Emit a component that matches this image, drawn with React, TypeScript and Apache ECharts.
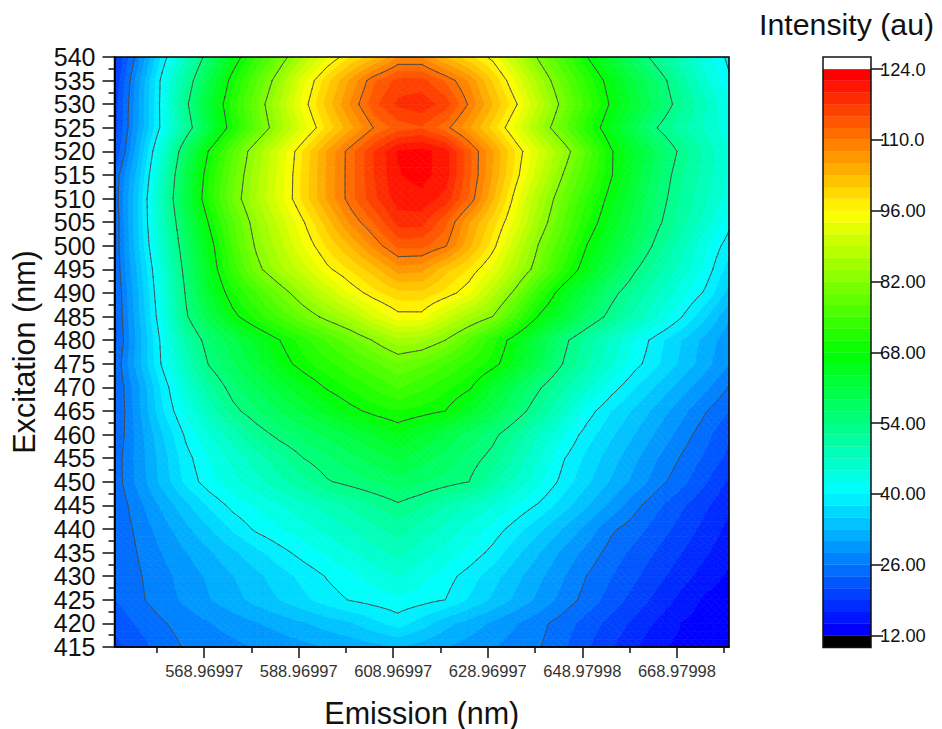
import React, { useEffect, useRef } from "react";
import * as echarts from "echarts";

// Emission columns (nm), left to right
const emissionNm = [550, 555, 560, 565, 570, 575, 580, 585, 590, 595, 600, 605, 610, 615, 620, 625, 630, 635, 640, 645, 650, 655, 660, 665, 670, 675, 680];
// Excitation rows (nm), top to bottom
const excitationNm = [540, 535, 530, 525, 520, 515, 510, 505, 500, 495, 490, 485, 480, 475, 470, 465, 460, 455, 450, 445, 440, 435, 430, 425, 420, 415];
const excitationLabels = ["415", "420", "425", "430", "435", "440", "445", "450", "455", "460", "465", "470", "475", "480", "485", "490", "495", "500", "505", "510", "515", "520", "525", "530", "535", "540"];

const row540 = [18, 27.3, 38, 47.2, 56.3, 65.4, 72.8, 79.7, 86.6, 93.3, 98.3, 102.2, 107.5, 107.5, 102.6, 99, 95.1, 88, 81, 74.6, 68, 62.5, 57, 52, 47.7, 43.5, 39.2];
const row535 = [18.8, 29.7, 40.8, 50.8, 60.4, 69.6, 76.9, 84.5, 92.9, 99.8, 105.8, 112, 115.5, 115.5, 112, 107.2, 100.4, 93, 85.2, 78.3, 72, 66.2, 61.1, 56, 50.6, 45, 40.5];
const row530 = [19.8, 30.3, 41, 52.8, 62.7, 71.6, 79.2, 86.9, 94.7, 101.6, 108, 114, 117.5, 118.5, 116, 109.6, 103, 96.3, 88.1, 80.4, 73.8, 67.5, 62.3, 57.1, 52, 47.3, 42.3];
const row525 = [20.1, 30.4, 40.9, 51.1, 61, 70.3, 77.9, 85.3, 92.5, 99, 104.7, 110.3, 113.4, 114.4, 111, 105.7, 99.7, 92.7, 85.1, 78.1, 71.4, 65.2, 59.6, 53.8, 50, 46.4, 43];
const row520 = [20.9, 32.3, 44.7, 57.5, 68.4, 77, 84.8, 91.6, 98.6, 105.5, 111.4, 117, 121.8, 122.5, 120.5, 113, 105.5, 97.9, 91, 84.3, 76.5, 68.5, 63.2, 58, 53, 48.7, 44.1];
const row515 = [24, 34, 46.7, 59.8, 70.4, 78.6, 85.8, 92.3, 99.1, 105.7, 111.4, 117, 121.5, 122.5, 120.5, 113, 105.2, 97, 89.3, 81.7, 75, 68.4, 62.6, 56.7, 51.9, 48.2, 44];
const row510 = [24.3, 35.3, 47.8, 60.8, 71.2, 79.6, 86.3, 92.6, 99.1, 105.7, 111.4, 116.5, 120.5, 121, 118.5, 112, 103.3, 94.5, 86.2, 79, 72.5, 66.6, 61.3, 55.8, 51.2, 47.4, 43.5];
const row505 = [23.8, 35.2, 47.3, 58.5, 68.4, 76.8, 84, 89.8, 95.8, 101.9, 108.2, 112.6, 118, 118, 113, 105.5, 99.5, 92.5, 84.3, 77.2, 70.5, 64.9, 59.9, 54.7, 50.3, 45.8, 40.8];
const row500 = [24, 34.8, 46, 56.9, 66, 75.4, 82.6, 88.1, 93.7, 98.7, 103.2, 108.5, 113, 113, 110.3, 103.7, 97.1, 89.2, 81.3, 75, 67.8, 62.8, 57.8, 52.7, 47.8, 42.8, 38.6];
const row495 = [23.7, 33.6, 44.2, 55.5, 65.1, 73.3, 80.7, 85.8, 90.3, 95.3, 98.6, 102, 106.5, 106, 101.5, 98, 93, 86.2, 79.4, 72, 65.5, 60.1, 54.5, 50.1, 45.9, 41.6, 36.5];
const row490 = [23.1, 32.8, 43.2, 54.2, 63.2, 70.1, 74.9, 79.9, 84.8, 89.5, 94.2, 97.5, 99.9, 100, 97.6, 94.2, 87.6, 80.6, 72.4, 65.6, 60.5, 55.4, 51.2, 47.2, 43.1, 39.5, 34.5];
const row485 = [22.9, 32.3, 42.3, 53.3, 60.2, 66.8, 71.4, 75.4, 79.6, 83.3, 86.6, 91.5, 95, 95, 90, 85.8, 82, 74.4, 67.3, 62.4, 57.3, 52.7, 48.6, 44.4, 40.1, 35.7, 31];
const row480 = [22.6, 31.5, 40.8, 49.6, 56, 60, 64, 68, 71.6, 75.2, 78.7, 82.4, 86, 85, 82, 76.7, 71.3, 65.9, 60.5, 55, 50.5, 46.4, 42.3, 38.5, 35.3, 32.2, 29];
const row475 = [23.7, 32, 40.3, 47.4, 54.3, 58.3, 62.3, 66.3, 69.5, 71.9, 74.4, 76.9, 79.3, 77.9, 75, 72.1, 69.3, 64.7, 59.2, 53.8, 49.6, 45.3, 41, 37.9, 34.7, 31.6, 28.4];
const row470 = [23.3, 30.1, 38, 44.7, 50.7, 55.5, 58.8, 62, 65.4, 68.4, 70.7, 73, 75.2, 73.2, 71, 68.6, 63.4, 58.5, 54.3, 50, 45.6, 41.3, 37.8, 34.8, 31.8, 28.9, 25.8];
const row465 = [23.1, 29.8, 37.2, 42.7, 47.8, 52.9, 56.1, 58.8, 61.6, 64.3, 67, 69, 70.3, 69.3, 68, 63.9, 60, 55.9, 51.5, 46.5, 41.3, 37.7, 34.9, 32, 29.1, 26.2, 23.7];
const row460 = [23.7, 29.3, 35, 40.4, 44.4, 48.3, 52.2, 55.1, 57.2, 59.3, 61.3, 63.5, 65.7, 63.2, 60.5, 57.8, 55, 51.2, 46.8, 42.5, 38.7, 35.8, 33, 30.1, 27.3, 24.5, 21.5];
const row455 = [24.5, 29.2, 34, 39, 42.3, 45.3, 48.2, 51, 54, 55.9, 57.8, 59.7, 61.6, 59.7, 57.6, 55.5, 52.9, 48.7, 44.5, 40.2, 37, 34.1, 31.2, 28.3, 25.7, 23.2, 20.7];
const row450 = [24.5, 29, 33.7, 38.2, 41.4, 43.8, 46.2, 48.6, 51, 53.7, 55, 56.3, 57.6, 56.5, 55.3, 54, 50.3, 46.5, 42.7, 39, 35.8, 32.8, 29.9, 26.9, 24.4, 21.6, 18.5];
const row445 = [24, 27.5, 31.1, 34.6, 38, 40.8, 42.6, 44.4, 46.2, 48, 49.9, 51.7, 53.5, 51.8, 49.3, 47, 44.7, 42, 39.5, 36.4, 33.2, 30, 26.8, 24.1, 21.7, 19.4, 17];
const row440 = [24, 26.6, 29.5, 32.3, 35.1, 38, 40.5, 42.1, 43.8, 45.4, 47.1, 48.8, 50.4, 48.4, 46.1, 43.8, 41.5, 38.7, 35.8, 32.8, 29.8, 26.5, 24.7, 22.5, 20.4, 18.2, 16];
const row435 = [24, 26.1, 28.3, 30.5, 32.6, 34.8, 37, 39.1, 41, 42.7, 44.4, 46.1, 47.7, 45.7, 43.7, 41.7, 39.2, 35.9, 33, 30, 27.5, 25, 23, 21, 19, 17, 15];
const row430 = [23.8, 25.7, 27.5, 29.3, 31.1, 32.9, 34.7, 36.6, 38.4, 40.2, 41.7, 43.3, 44.8, 43, 41.1, 38.9, 36.3, 33.7, 31.1, 28.5, 25.9, 23.8, 21.8, 19.7, 17.6, 15.6, 13.9];
const row425 = [23.5, 25.5, 27.2, 28.8, 30.5, 32.1, 33.8, 35.4, 37.1, 38.9, 40.2, 41, 41.7, 41, 40, 37.4, 34.9, 32.4, 29.9, 27.4, 25, 22.7, 20.4, 18.2, 15.9, 13.8, 13];
const row420 = [22, 24, 25.7, 27, 28.2, 29.3, 30.5, 31.6, 32.8, 34, 35.1, 37, 38.7, 36.5, 33.8, 32, 30.2, 28.4, 26.7, 24.8, 22.6, 20.5, 18.4, 16.2, 14.2, 13.2, 12.5];
const row415 = [20.5, 22.5, 24.8, 26.2, 27, 27.7, 28.5, 29.2, 30, 30.7, 31.5, 32.2, 33, 31.9, 30.7, 29.6, 28.4, 27.3, 26.1, 24, 21.6, 19.3, 17, 14.7, 13.7, 13, 12.3];

const intensityRows = [row540, row535, row530, row525, row520, row515, row510, row505, row500, row495, row490, row485, row480, row475, row470, row465, row460, row455, row450, row445, row440, row435, row430, row425, row420, row415];

// Tick labels
const emissionMajorTicks = [568.96997, 588.96997, 608.96997, 628.96997, 648.97998, 668.97998];
const emissionMajorLabels = ["568.96997", "588.96997", "608.96997", "628.96997", "648.97998", "668.97998"];
const emissionMinorTicks = [558.97, 578.97, 598.97, 618.97, 638.97, 658.98, 678.98];
const contourLevels = [26, 40, 54, 68, 82, 96, 110];
const colorbarTicks = [12, 26, 40, 54, 68, 82, 96, 110, 124];
const colorbarLabels = ["12.00", "26.00", "40.00", "54.00", "68.00", "82.00", "96.00", "110.0", "124.0"];

// Colour scale
const rampStops = [[0, 0, 255], [0, 255, 255], [0, 255, 0], [255, 255, 0], [255, 0, 0]];
const rangeLow = 12;
const rangeHigh = 124;
const bandCount = 48;
const bandStep = (rangeHigh - rangeLow) / bandCount;
const cellDivisions = 3;

function bandColor(i: number) {
  const t = (i / (bandCount - 1)) * (rampStops.length - 1);
  const k = Math.min(Math.floor(t), rampStops.length - 2);
  const f = t - k;
  const c = rampStops[k].map((v, n) => Math.round(v + (rampStops[k + 1][n] - v) * f));
  return `rgb(${c[0]},${c[1]},${c[2]})`;
}

type P = [number, number, number];

function clipAbove(poly: P[], level: number, keepAbove: boolean): P[] {
  const out: P[] = [];
  for (let i = 0; i < poly.length; i++) {
    const a = poly[i];
    const b = poly[(i + 1) % poly.length];
    const aIn = keepAbove ? a[2] >= level : a[2] <= level;
    const bIn = keepAbove ? b[2] >= level : b[2] <= level;
    if (aIn) out.push(a);
    if (aIn !== bIn) {
      const f = (level - a[2]) / (b[2] - a[2]);
      out.push([a[0] + (b[0] - a[0]) * f, a[1] + (b[1] - a[1]) * f, level]);
    }
  }
  return out;
}

// The drawing surface of one grid cell, cut into small triangles
function cellTriangles(api: any, i: number, j: number): P[][] {
  const tl = api.coord([emissionNm[i], excitationNm[j]]);
  const br = api.coord([emissionNm[i + 1], excitationNm[j + 1]]);
  const z00 = intensityRows[j][i];
  const z10 = intensityRows[j][i + 1];
  const z01 = intensityRows[j + 1][i];
  const z11 = intensityRows[j + 1][i + 1];
  const at = (u: number, v: number): P => [
    tl[0] + (br[0] - tl[0]) * u,
    tl[1] + (br[1] - tl[1]) * v,
    z00 * (1 - u) * (1 - v) + z10 * u * (1 - v) + z01 * (1 - u) * v + z11 * u * v,
  ];
  const tris: P[][] = [];
  const n = cellDivisions;
  for (let a = 0; a < n; a++) {
    for (let b = 0; b < n; b++) {
      const p = at(a / n, b / n);
      const q = at((a + 1) / n, b / n);
      const r = at((a + 1) / n, (b + 1) / n);
      const s = at(a / n, (b + 1) / n);
      tris.push([p, q, r], [p, r, s]);
    }
  }
  return tris;
}

function renderBands(params: any, api: any) {
  const i = api.value(2);
  const j = api.value(3);
  const children: any[] = [];
  for (const tri of cellTriangles(api, i, j)) {
    const zs = tri.map((p) => p[2]);
    const lo = Math.max(0, Math.floor((Math.min(...zs) - rangeLow) / bandStep));
    const hi = Math.min(bandCount - 1, Math.floor((Math.max(...zs) - rangeLow) / bandStep));
    for (let b = lo; b <= hi; b++) {
      let poly = clipAbove(tri, rangeLow + b * bandStep, true);
      if (poly.length) poly = clipAbove(poly, rangeLow + (b + 1) * bandStep, false);
      if (poly.length < 3) continue;
      const col = bandColor(b);
      children.push({
        type: "polygon",
        silent: true,
        shape: { points: poly.map((p) => [p[0], p[1]]) },
        style: { fill: col, stroke: col, lineWidth: 0.7 },
      });
    }
  }
  return { type: "group", children };
}

function renderContours(params: any, api: any) {
  const i = api.value(2);
  const j = api.value(3);
  const children: any[] = [];
  for (const tri of cellTriangles(api, i, j)) {
    for (const level of contourLevels) {
      const pts: number[][] = [];
      for (let e = 0; e < 3; e++) {
        const a = tri[e];
        const b = tri[(e + 1) % 3];
        if (a[2] < level !== b[2] < level) {
          const f = (level - a[2]) / (b[2] - a[2]);
          pts.push([a[0] + (b[0] - a[0]) * f, a[1] + (b[1] - a[1]) * f]);
        }
      }
      if (pts.length === 2) {
        children.push({
          type: "line",
          silent: true,
          shape: { x1: pts[0][0], y1: pts[0][1], x2: pts[1][0], y2: pts[1][1] },
          style: { stroke: "#474747", lineWidth: 0.9, lineCap: "round" },
        });
      }
    }
  }
  return { type: "group", children };
}

function renderColorbar(params: any, api: any) {
  const lowEnd = api.value(0);
  const highEnd = api.value(1);
  const idx = api.value(2);
  const tl = api.coord([0, highEnd]);
  const br = api.coord([1, lowEnd]);
  const fill = idx < 0 ? "#000000" : idx >= bandCount ? "#ffffff" : bandColor(idx);
  return {
    type: "rect",
    silent: true,
    shape: { x: tl[0], y: tl[1], width: br[0] - tl[0], height: br[1] - tl[1] },
    style: { fill, stroke: fill, lineWidth: 0.3 },
  };
}

const fontFamily = "'Liberation Sans', Arial, sans-serif";

export default function App() {
  const ref = useRef<HTMLDivElement>(null);

  useEffect(() => {
    if (!ref.current) return;
    const chart = echarts.init(ref.current, undefined, { renderer: "svg" });

    const cells: number[][] = [];
    for (let j = 0; j < excitationNm.length - 1; j++) {
      for (let i = 0; i < emissionNm.length - 1; i++) {
        cells.push([emissionNm[i], excitationNm[j], i, j]);
      }
    }

    const barTop = rangeHigh + (12 / 5.058);
    const barBottom = rangeLow - (12 / 5.058);
    const barSegments: number[][] = [[barBottom, rangeLow, -1]];
    for (let b = 0; b < bandCount; b++) {
      barSegments.push([rangeLow + b * bandStep, rangeLow + (b + 1) * bandStep, b]);
    }
    barSegments.push([rangeHigh, barTop, bandCount]);

    const plotRect = { left: 114.5, top: 57, width: 614.5, height: 590, outerBoundsMode: "none" };
    const barRect = { left: 823, top: 57, width: 48, height: 590.5, outerBoundsMode: "none" };

    chart.setOption({
      animation: false,
      backgroundColor: "#ffffff",
      title: {
        text: "Intensity (au)",
        left: 759,
        top: 9,
        padding: 0,
        textStyle: { fontFamily, fontSize: 30.3, fontWeight: "normal", color: "#111" },
      },
      grid: [
        { ...plotRect, show: false },
        { ...plotRect, show: true, z: 6, borderColor: "#000", borderWidth: 1.5, backgroundColor: "transparent" },
        { ...barRect, show: true, z: 6, borderColor: "#111", borderWidth: 1.5, backgroundColor: "transparent" },
      ],
      xAxis: [
        {
          gridIndex: 0,
          type: "value",
          min: 550,
          max: 680,
          z: 8,
          name: "Emission (nm)",
          nameLocation: "middle",
          nameGap: 50,
          nameTextStyle: { fontFamily, fontSize: 30.5, color: "#111" },
          splitLine: { show: false },
          axisLine: { show: true, onZero: false, lineStyle: { color: "#000", width: 1.5 } },
          axisTick: { show: true, length: 11, customValues: emissionMajorTicks, lineStyle: { color: "#111", width: 1.5 } },
          axisLabel: {
            show: true,
            customValues: emissionMajorTicks,
            margin: 15,
            fontFamily,
            fontSize: 16.5,
            color: "#333",
            formatter: (v: number) => {
              const k = emissionMajorTicks.findIndex((t) => Math.abs(t - v) < 0.01);
              return k >= 0 ? emissionMajorLabels[k] : "";
            },
          },
        },
        {
          gridIndex: 1,
          type: "value",
          min: 550,
          max: 680,
          z: 8,
          splitLine: { show: false },
          axisLine: { show: false, onZero: false },
          axisTick: { show: true, length: 6, customValues: emissionMinorTicks, lineStyle: { color: "#111", width: 1.5 } },
          axisLabel: { show: false },
        },
        {
          gridIndex: 2,
          type: "value",
          min: 0,
          max: 1,
          show: false,
        },
      ],
      yAxis: [
        {
          gridIndex: 0,
          type: "value",
          min: 415,
          max: 540,
          interval: 5,
          z: 8,
          name: "Excitation (nm)",
          nameLocation: "middle",
          nameGap: 75,
          nameTextStyle: { fontFamily, fontSize: 30.5, color: "#111" },
          splitLine: { show: false },
          axisLine: { show: true, onZero: false, lineStyle: { color: "#000", width: 1.5 } },
          axisTick: { show: true, length: 12, lineStyle: { color: "#111", width: 1.5 } },
          minorTick: { show: true, splitNumber: 2, length: 6, lineStyle: { color: "#111", width: 1.5 } },
          minorSplitLine: { show: false },
          axisLabel: { show: false },
        },
        {
          // Labels only: a category axis keeps every one of these tightly packed labels
          gridIndex: 1,
          type: "category",
          data: excitationLabels,
          boundaryGap: false,
          z: 8,
          splitLine: { show: false },
          axisLine: { show: false },
          axisTick: { show: false },
          axisLabel: { show: true, interval: 0, hideOverlap: false, margin: 19, fontFamily, fontSize: 25, color: "#111" },
        },
        {
          gridIndex: 2,
          type: "value",
          position: "right",
          min: barBottom,
          max: barTop,
          z: 8,
          splitLine: { show: false },
          axisLine: { show: false, onZero: false },
          axisTick: { show: true, length: 12, customValues: colorbarTicks, lineStyle: { color: "#111", width: 1.5 } },
          axisLabel: {
            show: true,
            customValues: colorbarTicks,
            margin: 9,
            fontFamily,
            fontSize: 18.3,
            color: "#111",
            formatter: (v: number) => {
              const k = colorbarTicks.findIndex((t) => Math.abs(t - v) < 0.01);
              return k >= 0 ? colorbarLabels[k] : "";
            },
          },
        },
      ],
      series: [
        {
          type: "custom",
          xAxisIndex: 0,
          yAxisIndex: 0,
          z: 2,
          clip: true,
          silent: true,
          data: cells,
          encode: { x: 0, y: 1 },
          renderItem: renderBands,
        },
        {
          type: "custom",
          xAxisIndex: 0,
          yAxisIndex: 0,
          z: 3,
          clip: true,
          silent: true,
          data: cells,
          encode: { x: 0, y: 1 },
          renderItem: renderContours,
        },
        {
          type: "custom",
          xAxisIndex: 2,
          yAxisIndex: 2,
          z: 2,
          clip: true,
          silent: true,
          data: barSegments,
          encode: { y: [0, 1] },
          renderItem: renderColorbar,
        },
      ],
    });

    return () => chart.dispose();
  }, []);

  return (
    <div
      ref={ref}
      style={{ position: "fixed", left: 0, top: 0, width: 942, height: 729, background: "#fff" }}
    />
  );
}
